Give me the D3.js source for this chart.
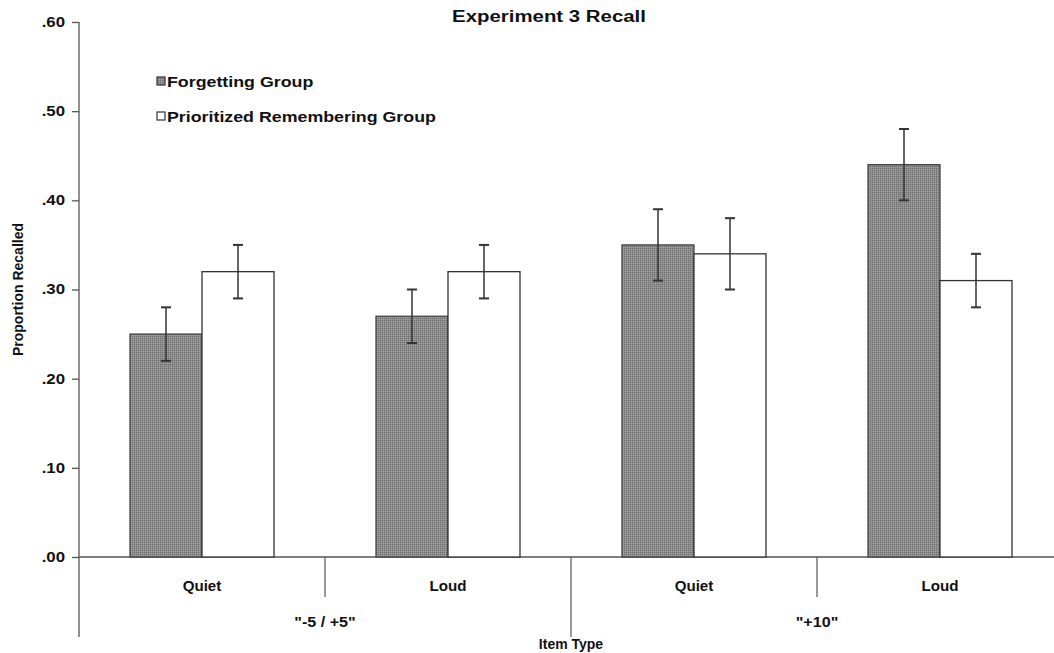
<!DOCTYPE html>
<html><head><meta charset="utf-8">
<script src="https://cdn.jsdelivr.net/npm/d3@7"></script>
<style>body{margin:0;background:#fff}svg{display:block}text{font-family:"Liberation Sans",Arial,sans-serif;font-weight:bold;fill:#111}</style>
</head><body><svg id="c" width="1054" height="653"></svg>
<script>
const categories = ["Quiet","Loud","Quiet","Loud"];
const groups = ['"-5 / +5"', '"+10"'];
const series = ["Forgetting Group","Prioritized Remembering Group"];
const forgetting = [0.25,0.27,0.35,0.44];
const forgettingErr = [0.03,0.03,0.04,0.04];
const prioritized = [0.32,0.32,0.34,0.31];
const prioritizedErr = [0.03,0.03,0.04,0.03];
const yTicks = [0,0.1,0.2,0.3,0.4,0.5,0.6];

const SX = 1.2; // horizontal stretch of the lettering
const svg = d3.select("#c");
const defs = svg.append("defs");
const pat = defs.append("pattern").attr("id","stip").attr("width",2).attr("height",2).attr("patternUnits","userSpaceOnUse");
pat.append("rect").attr("width",2).attr("height",2).attr("fill","#8c8c8c");
pat.append("rect").attr("width",1).attr("height",1).attr("fill","#6e6e6e");
pat.append("rect").attr("x",1).attr("y",1).attr("width",1).attr("height",1).attr("fill","#a0a0a0");

function label(x,y,txt,size,anchor,sx){
  return svg.append("text").attr("transform",`translate(${x},${y}) scale(${sx||SX},1)`)
    .attr("text-anchor",anchor||"middle").attr("font-size",size).text(txt);
}

const x0 = d3.scaleBand().domain(d3.range(categories.length)).range([79,1063]).padding(0);
const y = d3.scaleLinear().domain([0,0.6]).range([557,22]);
const barW = 72;
const x1 = d3.scaleBand().domain([0,1]).range([-barW, barW]).padding(0);

const axisColor = "#555";
svg.append("line").attr("x1",79).attr("x2",79).attr("y1",y(0.6)).attr("y2",637).attr("stroke",axisColor).attr("stroke-width",1.3);
svg.append("line").attr("x1",79).attr("x2",1063).attr("y1",y(0)).attr("y2",y(0)).attr("stroke",axisColor).attr("stroke-width",1.3);
const yAxis = svg.append("g").attr("transform","translate(79,0)")
  .call(d3.axisLeft(y).tickValues(yTicks).tickSize(7).tickFormat(d=>d3.format(".2f")(d).replace(/^0/,"")));
yAxis.select(".domain").remove();
yAxis.selectAll(".tick line").attr("stroke",axisColor).attr("stroke-width",1.3);
yAxis.selectAll(".tick text").attr("x",0).attr("transform",`translate(-14,0) scale(${SX},1)`)
  .attr("font-size",14).style("font-family","Liberation Sans, Arial").style("font-weight","bold").attr("fill","#111");

[1,3].forEach(i=>{
  const xx = x0(i);
  svg.append("line").attr("x1",xx).attr("x2",xx).attr("y1",y(0)).attr("y2",597).attr("stroke",axisColor).attr("stroke-width",1.2);
});
svg.append("line").attr("x1",x0(2)).attr("x2",x0(2)).attr("y1",y(0)).attr("y2",637).attr("stroke",axisColor).attr("stroke-width",1.2);

const data = categories.map((c,i)=>({i, vals:[forgetting[i],prioritized[i]], errs:[forgettingErr[i],prioritizedErr[i]]}));
const cat = svg.selectAll("g.cat").data(data).join("g").attr("class","cat")
  .attr("transform",d=>`translate(${x0(d.i)+x0.bandwidth()/2},0)`);
cat.selectAll("rect").data(d=>d.vals.map((v,k)=>({v,k,e:d.errs[k]}))).join("rect")
  .attr("x",d=>x1(d.k)).attr("width",x1.bandwidth())
  .attr("y",d=>y(d.v)).attr("height",d=>y(0)-y(d.v))
  .attr("fill",d=>d.k===0?"url(#stip)":"#fff")
  .attr("stroke",d=>d.k===0?"#444":"#333").attr("stroke-width",1.3);
const eb = cat.selectAll("g.eb").data(d=>d.vals.map((v,k)=>({v,k,e:d.errs[k]}))).join("g").attr("class","eb")
  .attr("transform",d=>`translate(${x1(d.k)+x1.bandwidth()/2},0)`);
eb.append("line").attr("y1",d=>y(d.v+d.e)).attr("y2",d=>y(d.v-d.e)).attr("stroke","#333").attr("stroke-width",1.5);
eb.append("line").attr("x1",-5).attr("x2",5).attr("y1",d=>y(d.v+d.e)).attr("y2",d=>y(d.v+d.e)).attr("stroke","#333").attr("stroke-width",2);
eb.append("line").attr("x1",-5).attr("x2",5).attr("y1",d=>y(d.v-d.e)).attr("y2",d=>y(d.v-d.e)).attr("stroke","#333").attr("stroke-width",2);

categories.forEach((c,i)=>label(x0(i)+x0.bandwidth()/2,591,c,14,"middle",1.08));
groups.forEach((g,i)=>label((x0(i*2)+x0(i*2+1)+x0.bandwidth())/2,627,g,14,"middle",1.15));
label(x0(2),649,"Item Type",14,"middle",1.0);

svg.append("text").attr("transform",`translate(23,${y(0.3)}) rotate(-90)`).attr("text-anchor","middle").attr("font-size",14).text("Proportion Recalled");

label(549,22,"Experiment 3 Recall",17);

series.forEach((s,i)=>{
  const yy = 82+i*35;
  svg.append("rect").attr("x",157).attr("y",yy-5).attr("width",8).attr("height",8)
    .attr("fill",i===0?"url(#stip)":"#fff").attr("stroke","#333").attr("stroke-width",1.2);
  label(167,yy+5,s,14.6,"start",1.22);
});
</script></body></html>
